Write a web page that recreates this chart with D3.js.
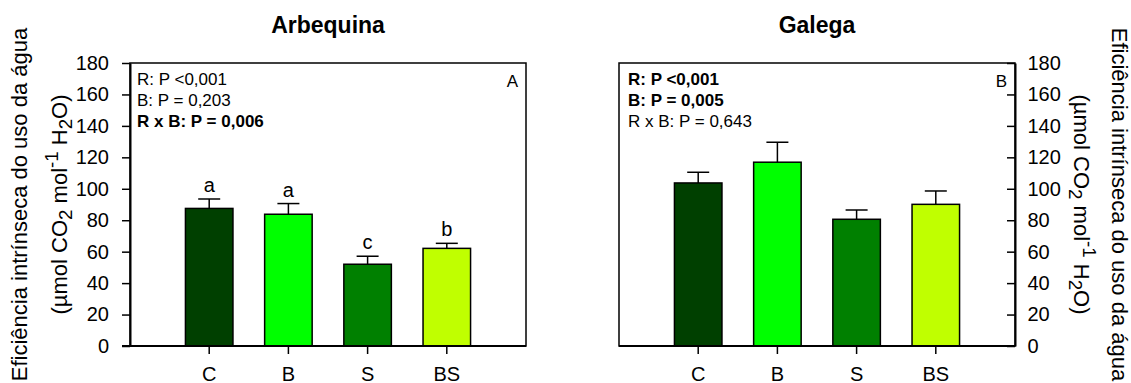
<!DOCTYPE html>
<html>
<head>
<meta charset="utf-8">
<script src="https://cdn.jsdelivr.net/npm/d3@7"></script>
<style>
  html, body { margin: 0; padding: 0; background: #fff; }
  svg { display: block; font-family: "Liberation Sans", Arial, Helvetica, sans-serif; }
</style>
</head>
<body>
<svg id="chart" width="1131" height="383"></svg>
<script>
// Treatments along the x axis
const categories = ["C", "B", "S", "BS"];
const barColors = ["#004000", "#00ff00", "#008000", "#c0ff00"];

// Arbequina: means and standard errors (µmol CO2 mol-1 H2O)
const arbequinaMeans = [87.5, 83.8, 52.0, 62.1];
const arbequinaErrors = [6.0, 6.8, 5.1, 3.2];
const arbequinaLetters = ["a", "a", "c", "b"];

// Galega: means and standard errors
const galegaMeans = [103.7, 116.9, 80.6, 90.1];
const galegaErrors = [6.8, 12.7, 5.9, 8.5];

const yTicks = [0, 20, 40, 60, 80, 100, 120, 140, 160, 180];

// ANOVA results (text, bold when significant)
const arbequinaStats = [["R: P <0,001", false], ["B: P = 0,203", false], ["R x B: P = 0,006", true]];
const galegaStats = [["R: P <0,001", true], ["B: P = 0,005", true], ["R x B: P = 0,643", false]];

const svg = d3.select("#chart");
const plotTop = 63, plotBottom = 346;
const y = d3.scaleLinear().domain([0, 180]).range([plotBottom, plotTop]);

function panel(opts) {
  const { x0, x1, title, means, errors, letters, stats, tag, side } = opts;
  const g = svg.append("g");
  const x = d3.scaleBand().domain(categories).range([x0, x1]).paddingInner(0.4).paddingOuter(0.7);

  // frame
  g.append("rect")
    .attr("x", x0).attr("y", plotTop)
    .attr("width", x1 - x0).attr("height", plotBottom - plotTop)
    .attr("fill", "none").attr("stroke", "#000").attr("stroke-width", 1.5);

  // bars
  g.selectAll("rect.bar").data(categories).enter().append("rect")
    .attr("class", "bar")
    .attr("x", d => x(d))
    .attr("y", (d, i) => y(means[i]))
    .attr("width", x.bandwidth())
    .attr("height", (d, i) => y(0) - y(means[i]))
    .attr("fill", (d, i) => barColors[i])
    .attr("stroke", "#000").attr("stroke-width", 1.5);

  // upper error bars
  const eb = g.selectAll("g.err").data(categories).enter().append("g").attr("class", "err");
  eb.append("line")
    .attr("x1", d => x(d) + x.bandwidth() / 2).attr("x2", d => x(d) + x.bandwidth() / 2)
    .attr("y1", (d, i) => y(means[i])).attr("y2", (d, i) => y(means[i] + errors[i]))
    .attr("stroke", "#000").attr("stroke-width", 1.5);
  eb.append("line")
    .attr("x1", d => x(d) + x.bandwidth() / 2 - 11).attr("x2", d => x(d) + x.bandwidth() / 2 + 11)
    .attr("y1", (d, i) => y(means[i] + errors[i])).attr("y2", (d, i) => y(means[i] + errors[i]))
    .attr("stroke", "#000").attr("stroke-width", 1.5);

  // significance letters
  if (letters) {
    g.selectAll("text.letter").data(categories).enter().append("text")
      .attr("class", "letter")
      .attr("x", d => x(d) + x.bandwidth() / 2)
      .attr("y", (d, i) => y(means[i] + errors[i]) - 7)
      .attr("text-anchor", "middle")
      .attr("font-size", 20)
      .text((d, i) => letters[i]);
  }

  // x axis
  const xAxis = g.append("g").attr("transform", `translate(0,${plotBottom})`)
    .call(d3.axisBottom(x).tickSize(8).tickSizeOuter(0));
  xAxis.select(".domain").attr("stroke-width", 2).attr("d", `M${x0 - (side === "left" ? 8 : 0)},0H${x1}`);
  xAxis.selectAll(".tick line").attr("stroke-width", 1.5);
  xAxis.selectAll(".tick text").attr("y", 34.5).attr("dy", null)
    .attr("font-size", 20).attr("font-family", null).attr("fill", "#000");

  // y axis
  if (side === "left") {
    const yAxis = g.append("g").attr("transform", `translate(${x0},0)`)
      .call(d3.axisLeft(y).tickValues(yTicks).tickSize(8).tickSizeOuter(0).tickPadding(13));
    yAxis.select(".domain").attr("stroke-width", 2);
    yAxis.selectAll(".tick line").attr("stroke-width", 1.5);
    yAxis.selectAll(".tick text").attr("font-size", 20).attr("font-family", null).attr("fill", "#000");
  } else {
    const yAxis = g.append("g").attr("transform", `translate(${x1},0)`)
      .call(d3.axisRight(y).tickValues(yTicks).tickSizeInner(-8).tickSizeOuter(0).tickPadding(12.5));
    yAxis.select(".domain").attr("stroke-width", 2);
    yAxis.selectAll(".tick line").attr("stroke-width", 1.5);
    yAxis.selectAll(".tick text").attr("font-size", 20).attr("font-family", null).attr("fill", "#000");
  }

  // title
  g.append("text")
    .attr("x", (x0 + x1) / 2).attr("y", 33)
    .attr("text-anchor", "middle")
    .attr("font-size", 23).attr("font-weight", "bold")
    .text(title);

  // stats block
  g.selectAll("text.stat").data(stats).enter().append("text")
    .attr("class", "stat")
    .attr("x", x0 + (side === "left" ? 7 : 9))
    .attr("y", (d, i) => 85 + i * 21)
    .attr("font-size", 17)
    .attr("font-weight", d => d[1] ? "bold" : "normal")
    .text(d => d[0]);

  // panel tag
  g.append("text")
    .attr("x", x1 - 8).attr("y", 87)
    .attr("text-anchor", "end")
    .attr("font-size", 17)
    .text(tag);
}

panel({ x0: 130, x1: 526, title: "Arbequina", means: arbequinaMeans, errors: arbequinaErrors,
        letters: arbequinaLetters, stats: arbequinaStats, tag: "A", side: "left" });
panel({ x0: 619, x1: 1015, title: "Galega", means: galegaMeans, errors: galegaErrors,
        letters: null, stats: galegaStats, tag: "B", side: "right" });

// y axis titles (two lines, with sub/superscripts)
function unitLine(t) {
  t.append("tspan").text("(µmol CO");
  t.append("tspan").attr("baseline-shift", "-25%").attr("font-size", "85%").text("2");
  t.append("tspan").text(" mol");
  t.append("tspan").attr("baseline-shift", "45%").attr("font-size", "85%").text("-1");
  t.append("tspan").text(" H");
  t.append("tspan").attr("baseline-shift", "-25%").attr("font-size", "85%").text("2");
  t.append("tspan").text("O)");
}

const midY = (plotTop + plotBottom) / 2;
const leftTitle = svg.append("g").attr("transform", `translate(0,${midY}) rotate(-90)`);
leftTitle.append("text").attr("x", 0).attr("y", 27).attr("text-anchor", "middle")
  .attr("font-size", 22).text("Eficiência intrínseca do uso da água");
unitLine(leftTitle.append("text").attr("x", 0).attr("y", 67).attr("text-anchor", "middle").attr("font-size", 22));

const rightTitle = svg.append("g").attr("transform", `translate(1131,${midY}) rotate(90)`);
rightTitle.append("text").attr("x", 0).attr("y", 19.5).attr("text-anchor", "middle")
  .attr("font-size", 22).text("Eficiência intrínseca do uso da água");
unitLine(rightTitle.append("text").attr("x", 0).attr("y", 57).attr("text-anchor", "middle").attr("font-size", 22));
</script>
</body>
</html>
